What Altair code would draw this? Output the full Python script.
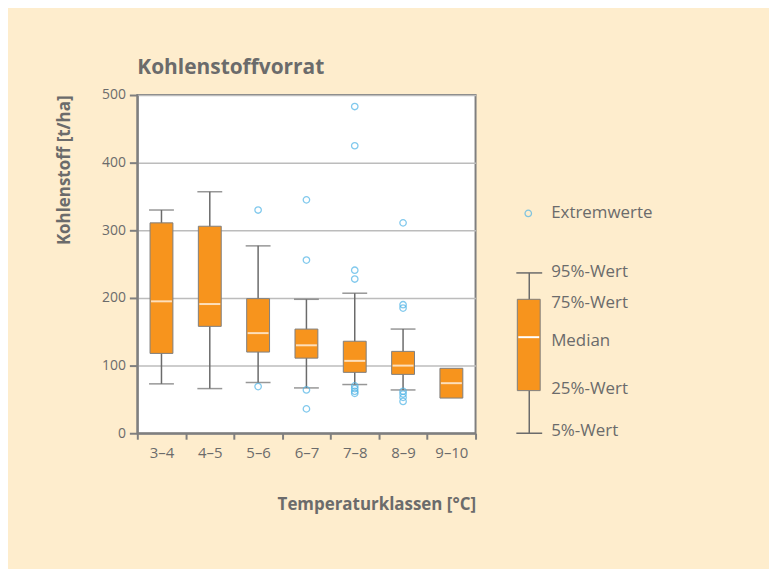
import altair as alt
import pandas as pd

# --- box statistics per temperature class ---
categories = ["3–4", "4–5", "5–6", "6–7", "7–8", "8–9", "9–10"]
p5 = [73, 66, 75, 67, 72, 64, None]
q1 = [118, 158, 120, 111, 90, 87, 52]
median = [195, 191, 148, 130, 107, 100, 74]
q3 = [311, 306, 199, 154, 136, 121, 96]
p95 = [330, 357, 277, 198, 207, 154, None]

# --- extreme values ---
out_cat = ["5–6", "5–6",
           "6–7", "6–7", "6–7", "6–7",
           "7–8", "7–8", "7–8", "7–8", "7–8", "7–8", "7–8", "7–8",
           "8–9", "8–9", "8–9", "8–9", "8–9", "8–9", "8–9"]
out_val = [330, 69,
           345, 256, 64, 36,
           483, 425, 241, 228, 70, 66, 62, 59,
           311, 190, 185, 62, 58, 53, 47]

# --- legend (schematic box) ---
leg_labels = ["95%-Wert", "75%-Wert", "Median", "25%-Wert", "5%-Wert"]
leg_stats = [237, 198, 142, 63, 0]          # p95, q3, median, q1, p5
leg_label_pos = [238, 192, 137, 65, 3]
extrem_label = "Extremwerte"
extrem_value = 325

FONT = "Open Sans"
GRAY = "#6b6b6b"
LINE = "#7f7f7f"
ORANGE = "#F7941D"
BLUE = "#4DB3E6"

box_df = pd.DataFrame({"cat": categories, "p5": p5, "q1": q1, "median": median,
                       "q3": q3, "p95": p95})
out_df = pd.DataFrame({"cat": out_cat, "val": out_val})
leg_box_df = pd.DataFrame([{"p95": leg_stats[0], "q3": leg_stats[1], "median": leg_stats[2],
                            "q1": leg_stats[3], "p5": leg_stats[4]}])
leg_txt_df = pd.DataFrame({"label": leg_labels + [extrem_label],
                           "pos": leg_label_pos + [extrem_value]})
leg_pt_df = pd.DataFrame({"val": [extrem_value]})

yscale = alt.Scale(domain=[0, 500], nice=False, zero=True)
yaxis = alt.Axis(values=[0, 100, 200, 300, 400, 500], grid=True, gridColor="#bcbcbc",
                 gridWidth=1.5, tickSize=8, labelPadding=4, title="Kohlenstoff [t/ha]",
                 titleAnchor="end", titlePadding=28)


def Y(field):
    return alt.Y(field, type="quantitative", scale=yscale, axis=yaxis)


xenc = alt.X("cat:N", sort=categories,
             scale=alt.Scale(paddingInner=0, paddingOuter=0),
             axis=alt.Axis(title="Temperaturklassen [°C]", labelAngle=0, tickBand="extent",
                           tickSize=6, labelPadding=6, labelFontSize=15, titleAnchor="end",
                           titlePadding=37, grid=False))

base = alt.Chart(box_df).encode(x=xenc)
valid = "isValid(datum.p95) && datum.p95 !== null"

whisker = base.transform_filter(valid).mark_rule(color=GRAY, strokeWidth=1.5).encode(
    y=Y("p5"), y2="p95")
box = base.mark_bar(size=23, color=ORANGE, stroke=LINE, strokeWidth=1).encode(
    y=Y("q1"), y2="q3")
med = base.mark_tick(color="white", size=21, thickness=2).encode(y=Y("median"))
cap_lo = base.transform_filter(valid).mark_tick(color=GRAY, size=25, thickness=1.5).encode(
    y=Y("p5"))
cap_hi = base.transform_filter(valid).mark_tick(color=GRAY, size=25, thickness=1.5).encode(
    y=Y("p95"))
outl = alt.Chart(out_df).mark_point(shape="circle", filled=False, color=BLUE, size=42,
                                    strokeWidth=1.3).encode(x=xenc, y=Y("val"))

# legend drawn beside the plot on the same y scale
lb = alt.Chart(leg_box_df)
l_wh = lb.mark_rule(color=GRAY, strokeWidth=1.5).encode(x=alt.value(394), y=Y("p5"), y2="p95")
l_box = lb.mark_bar(color=ORANGE, stroke=LINE, strokeWidth=1).encode(
    x=alt.value(382), x2=alt.value(405), y=Y("q1"), y2="q3")
l_med = lb.mark_rule(color="white", strokeWidth=2).encode(
    x=alt.value(383), x2=alt.value(404), y=Y("median"))
l_lo = lb.mark_rule(color=GRAY, strokeWidth=1.5).encode(
    x=alt.value(381), x2=alt.value(407), y=Y("p5"))
l_hi = lb.mark_rule(color=GRAY, strokeWidth=1.5).encode(
    x=alt.value(381), x2=alt.value(407), y=Y("p95"))
l_pt = alt.Chart(leg_pt_df).mark_point(shape="circle", filled=False, color=BLUE, size=42,
                                       strokeWidth=1.3).encode(x=alt.value(393), y=Y("val"))
l_txt = alt.Chart(leg_txt_df).mark_text(align="left", baseline="middle", fontSize=17,
                                        color=GRAY, font=FONT).encode(
    x=alt.value(416), y=Y("pos"), text="label:N")

chart = alt.layer(whisker, box, med, cap_lo, cap_hi, outl,
                  l_wh, l_box, l_med, l_lo, l_hi, l_pt, l_txt).properties(
    width=340, height=340,
    title=alt.TitleParams("Kohlenstoffvorrat", anchor="start", frame="group", fontSize=21,
                          fontWeight="bold", color=GRAY, font=FONT, offset=10),
    padding={"left": 47, "top": 48, "right": 117, "bottom": 55},
    background="#FEEDCD",
).configure_view(
    stroke=LINE, strokeWidth=2, fill="white"
).configure_axis(
    domainColor=LINE, domainWidth=2, tickColor=LINE, tickWidth=2,
    labelColor=GRAY, labelFontSize=14, labelFont=FONT,
    titleColor=GRAY, titleFontSize=17, titleFontWeight="bold", titleFont=FONT,
)

chart.save("out.html", embed_options={"renderer": "svg", "actions": False})
